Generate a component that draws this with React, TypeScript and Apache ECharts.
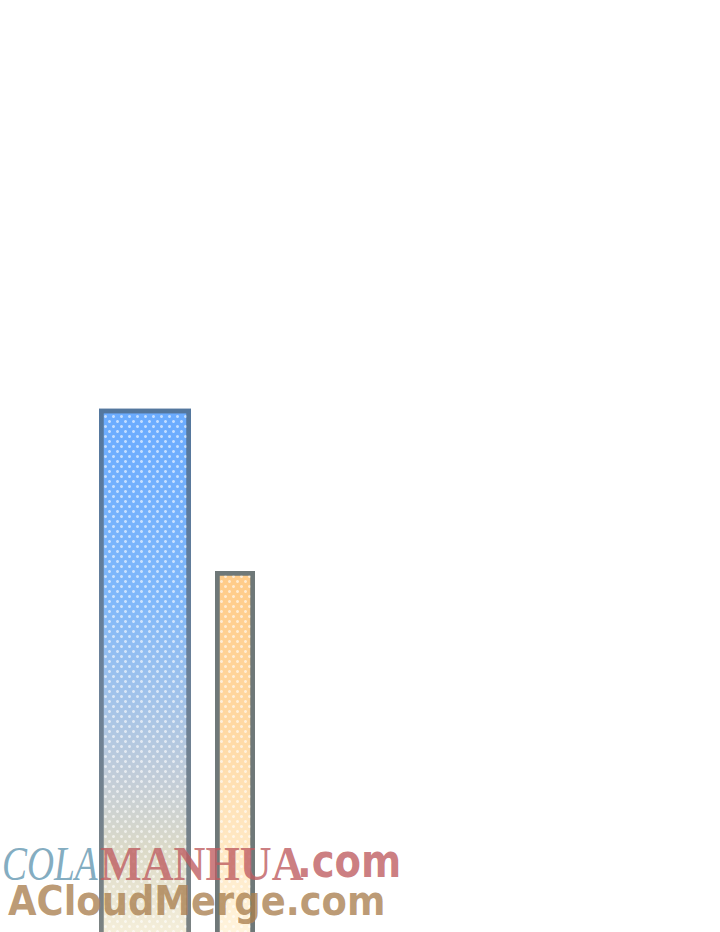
import React, { useEffect, useRef } from 'react'
import * as echarts from 'echarts'

// 数据
const categories = ['a', 'b', 'c', 'd', 'e', 'f', 'g', 'h']
const tallValues = [null, 57.2, null, null, null, null, null, null]
const shortValues = [null, null, 40.2, null, null, null, null, null]

const dots = {
  symbol: 'circle',
  symbolSize: 1,
  color: 'rgba(255, 255, 255, 0.6)',
  dashArrayX: [[3, 4.5], [0, 3.75, 3, 0.75]],
  dashArrayY: [3, 1.3],
  rotation: 0,
}

const App: React.FC = () => {
  const chartRef = useRef<HTMLDivElement>(null)

  useEffect(() => {
    if (!chartRef.current) return
    document.body.style.margin = '0'

    const chart = echarts.init(chartRef.current, null, { renderer: 'svg' })

    const option = {
      animation: false,
      backgroundColor: '#ffffff',
      grid: { left: 10, top: 0, width: 720, height: 955, outerBoundsMode: 'none', containLabel: false },
      xAxis: [
        { type: 'category', data: categories, show: false },
        { type: 'category', data: categories, show: false },
      ],
      yAxis: { type: 'value', min: 0, max: 100, show: false },
      series: [
        {
          type: 'bar',
          xAxisIndex: 0,
          barWidth: 92,
          clip: false,
          data: tallValues,
          itemStyle: {
            borderWidth: 4.5,
            borderColor: new echarts.graphic.LinearGradient(0, 0, 0, 1, [
              { offset: 0, color: '#54779e' },
              { offset: 0.5, color: '#6c8198' },
              { offset: 1, color: '#7c8280' },
            ]),
            color: new echarts.graphic.LinearGradient(0, 0, 0, 1, [
              { offset: 0, color: '#6aabff' },
              { offset: 0.35, color: '#80b8fa' },
              { offset: 0.53, color: '#a2c3ea' },
              { offset: 0.68, color: '#c3cdd8' },
              { offset: 0.81, color: '#dcdac8' },
              { offset: 1, color: '#fbf3de' },
            ]),
            decal: dots,
          },
        },
        {
          type: 'bar',
          xAxisIndex: 1,
          barWidth: 40,
          clip: false,
          data: shortValues,
          itemStyle: {
            borderWidth: 4.5,
            borderColor: '#6f7878',
            color: new echarts.graphic.LinearGradient(0, 0, 0, 1, [
              { offset: 0, color: '#ffcb88' },
              { offset: 0.4, color: '#ffd8a2' },
              { offset: 1, color: '#fff6e2' },
            ]),
            decal: dots,
          },
        },
      ],
      graphic: [
        {
          type: 'text',
          left: 2,
          top: 840,
          z: 100,
          scaleX: 0.78,
          style: {
            text: 'COLA',
            font: 'italic 48px "Liberation Serif"',
            fill: 'rgba(110, 158, 182, 0.85)',
          },
        },
        {
          type: 'text',
          left: 100,
          top: 840,
          z: 100,
          scaleX: 0.92,
          style: {
            text: 'MANHUA',
            font: 'bold 48px "Liberation Serif"',
            fill: 'rgba(190, 92, 96, 0.8)',
          },
        },
        {
          type: 'text',
          left: 297,
          top: 838,
          z: 100,
          scaleX: 0.84,
          style: {
            text: '.com',
            font: 'bold 46px "DejaVu Sans"',
            fill: 'rgba(190, 92, 96, 0.8)',
          },
        },
        {
          type: 'text',
          left: 8,
          top: 880,
          z: 100,
          scaleX: 0.9,
          style: {
            text: 'ACloudMerge.com',
            font: 'bold 41px "DejaVu Sans"',
            fill: 'rgba(170, 128, 80, 0.8)',
          },
        },
      ],
    }

    chart.setOption(option)

    return () => {
      chart.dispose()
    }
  }, [])

  return <div ref={chartRef} style={{ width: 720, height: 932 }} />
}

export default App
